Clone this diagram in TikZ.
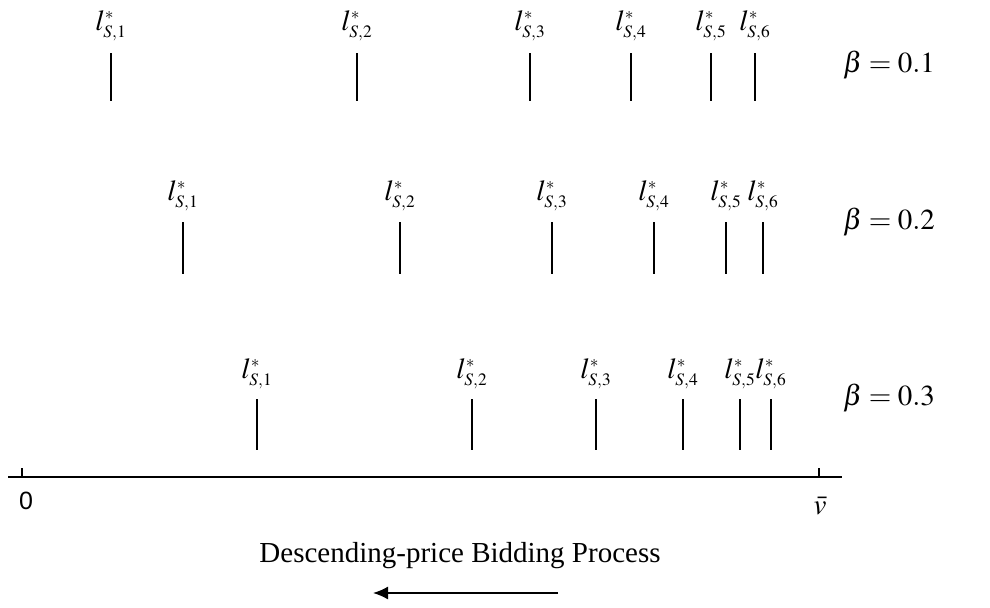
\documentclass[tikz,border=0pt]{standalone}
\usepackage{mathptmx}
\usepackage{fontspec}
\setmainfont{Liberation Serif}
\newfontfamily\axisfont{Liberation Sans}
\usetikzlibrary{arrows.meta,positioning}

% bid level label l*_{S,i}
\newcommand{\bidlevel}[1]{$l^{\scriptscriptstyle *}_{\scriptscriptstyle S,#1}$}

\begin{document}
\begin{tikzpicture}[
    x=0.5pt, y=-0.5pt,
    lbl/.style={anchor=base, inner sep=0pt, font=\fontsize{14.5}{17}\selectfont},
    bidline/.style={line width=1pt},
    axis/.style={line width=1.2pt},
    arrow/.style={line width=0.8pt,-{Latex[length=7.5pt,width=6.5pt]}}
]
\useasboundingbox (0,0) rectangle (990,607);

% beta = 0.1
\foreach \x [count=\i] in {111,357,530,631,711,755} {
    \node[lbl] (a\i) at (\x,30) {\bidlevel{\i}};
    \draw[bidline] (\x,53) -- (\x,101);
}
\node[lbl] (beta1) at (889,72) {$\beta = 0.1$};

% beta = 0.2
\foreach \x [count=\i] in {183,400,552,654,726,763} {
    \node[lbl] (b\i) at (\x,200) {\bidlevel{\i}};
    \draw[bidline] (\x,222) -- (\x,274);
}
\node[lbl] (beta2) at (889,229) {$\beta = 0.2$};

% beta = 0.3
\foreach \x [count=\i] in {257,472,596,683,740,771} {
    \node[lbl] (c\i) at (\x,378) {\bidlevel{\i}};
    \draw[bidline] (\x,399) -- (\x,450);
}
\node[lbl] (beta3) at (889,405) {$\beta = 0.3$};

% price axis
\coordinate (axl) at (8,477);
\coordinate (axr) at (842,477);
\draw[axis] (axl) -- (axr);
\draw[line width=0.6pt] (22,468) -- (22,477);
\draw[line width=0.6pt] (819,468) -- (819,477);
\node[font=\axisfont\fontsize{12.5}{14}\selectfont] (zero) at (26,501) {0};
\node[lbl] (vbar) at (820,514) {$\bar{v}$};

% bidding direction
\node[lbl] (proc) at (460,562) {Descending-price Bidding Process};
\coordinate (arrstart) at (558,593);
\coordinate (arrend) at (373,593);
\draw[arrow] (arrstart) -- (arrend);

\end{tikzpicture}
\end{document}
